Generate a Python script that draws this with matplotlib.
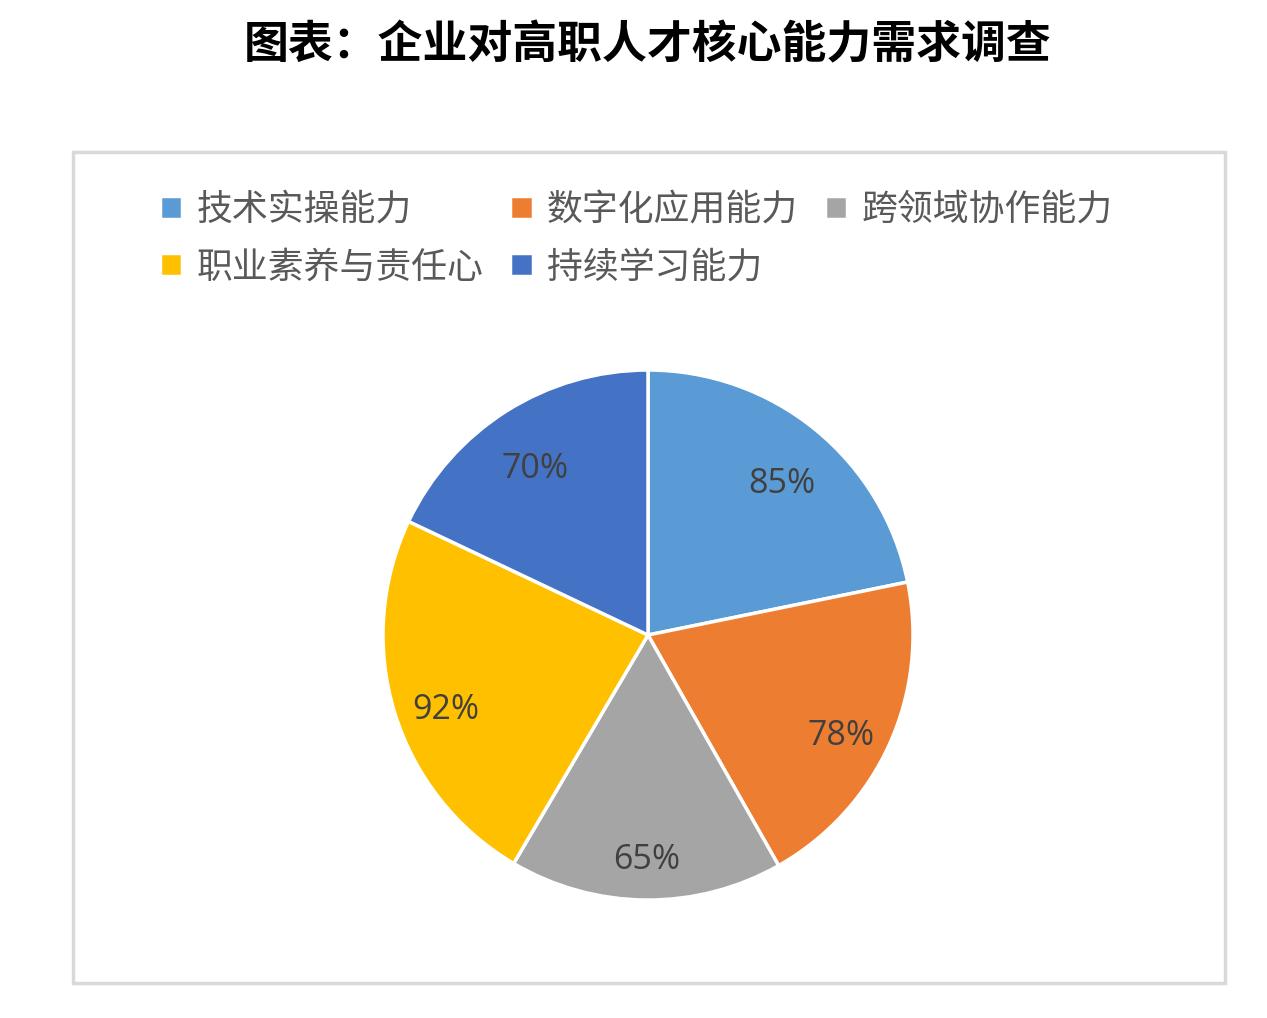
import matplotlib.pyplot as plt
from matplotlib.patches import Rectangle
from matplotlib.transforms import ScaledTranslation

# 企业对高职人才核心能力需求调查
abilities = ['技术实操能力', '数字化应用能力', '跨领域协作能力', '职业素养与责任心', '持续学习能力']
demand = [85, 78, 65, 92, 70]
colors = ['#5B9BD5', '#ED7D31', '#A5A5A5', '#FFC000', '#4472C4']

plt.rcParams['font.family'] = ['Noto Sans CJK SC', 'DejaVu Sans']

fig = plt.figure(figsize=(12.67, 10.18), dpi=100)

# gray chart frame
fig.patches.append(Rectangle((73 / 1267, 1 - 983 / 1018), 1152 / 1267, 831 / 1018,
                             transform=fig.transFigure, fill=False,
                             edgecolor='#D9D9D9', linewidth=2.5))

fig.text(648 / 1267, 1 - 45 / 1018, '图表：企业对高职人才核心能力需求调查',
         ha='center', va='center', fontsize=32.3, fontweight='heavy', color='black')

ax = fig.add_axes([0.25, 0.0508, 0.5229, 0.6508])
total = sum(demand)
wedges, texts, autotexts = ax.pie(
    demand, colors=colors, startangle=90, counterclock=False,
    autopct=lambda p: '{:.0f}%'.format(p * total / 100), pctdistance=0.8,
    wedgeprops=dict(edgecolor='white', linewidth=2.5))
# nudge labels down a little, like the excel layout
shift = ScaledTranslation(0, -9.5 / 72, fig.dpi_scale_trans)
for t in autotexts:
    t.set_fontsize(24.5)
    t.set_color('#404040')
    t.set_family(['Open Sans', 'DejaVu Sans'])
    t.set_transform(t.get_transform() + shift)

# legend row by row like Excel
order = [0, 3, 1, 4, 2]
leg = fig.legend([wedges[i] for i in order], [abilities[i] for i in order],
                 loc='upper left', bbox_to_anchor=(160 / 1267, 1 - 192 / 1018),
                 ncol=3, frameon=False, fontsize=25.8, handlelength=0.62,
                 handleheight=0.62, handletextpad=0.4, columnspacing=0.75,
                 labelspacing=0.6, borderaxespad=0, borderpad=0)
for t in leg.get_texts():
    t.set_color('#595959')

fig.savefig('out.png', dpi=100)
